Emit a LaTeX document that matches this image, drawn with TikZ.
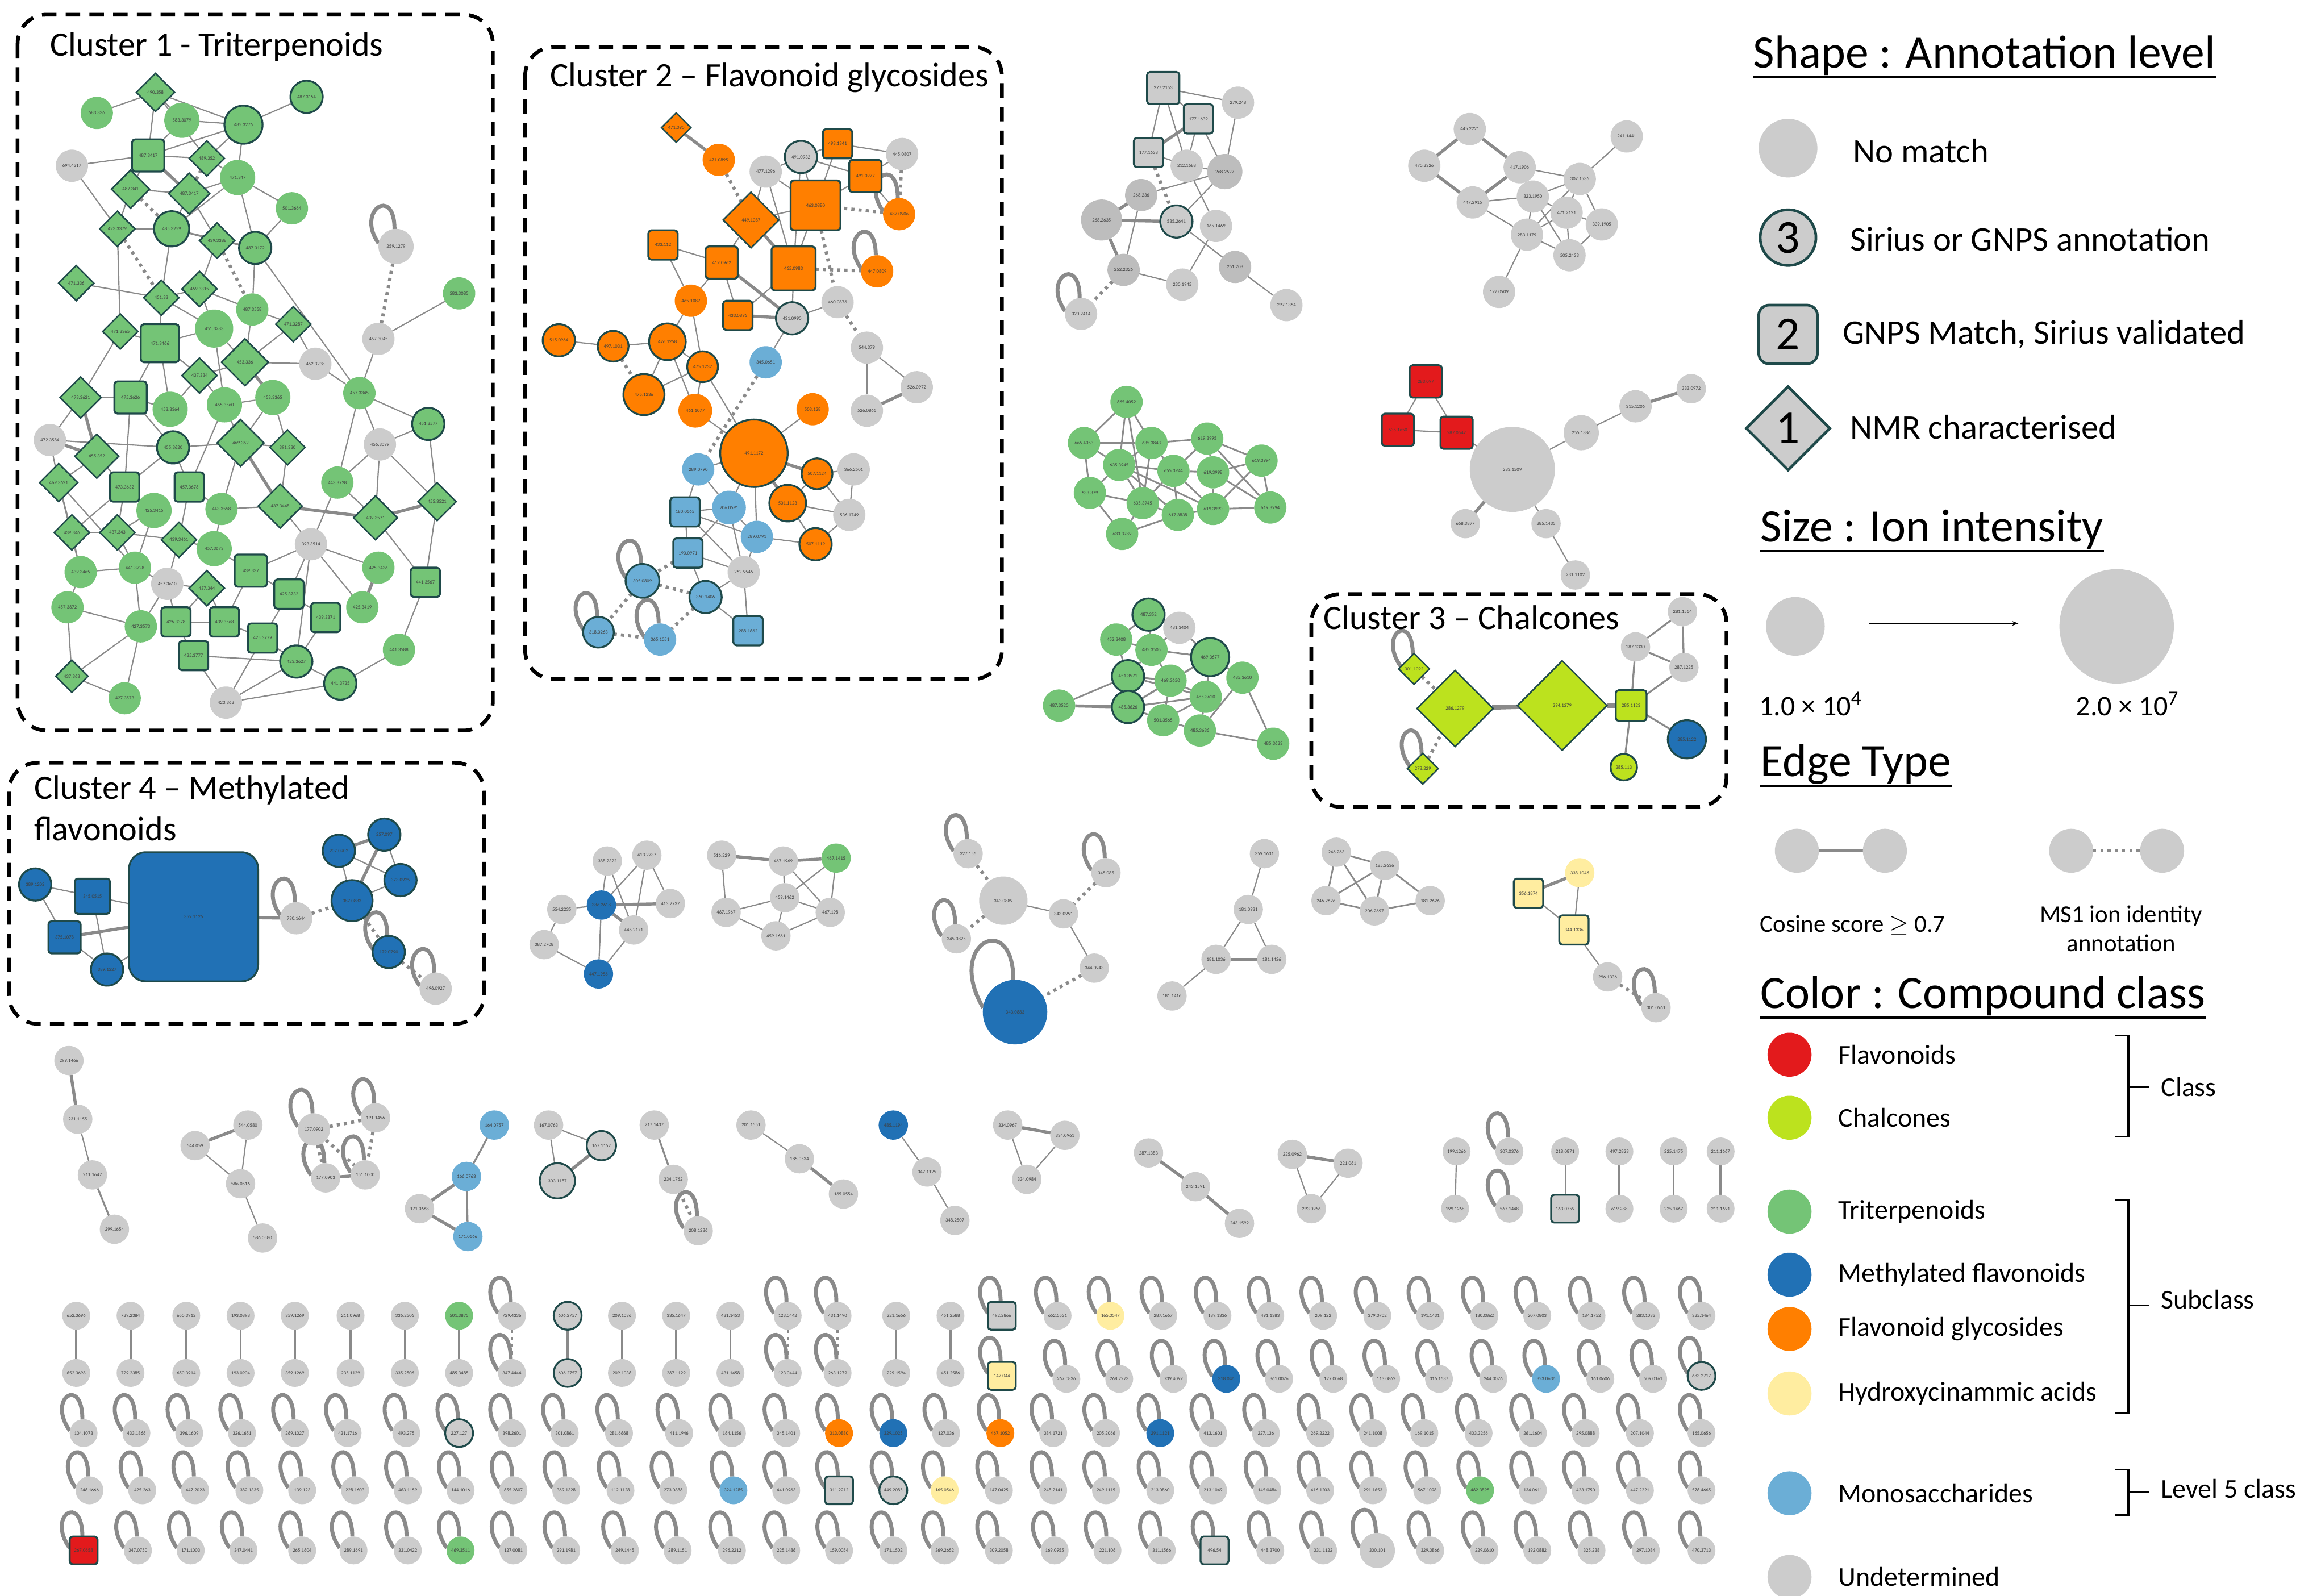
\documentclass[tikz,border=0pt]{standalone}
\usepackage{fontspec}
\setmainfont{Carlito}
\usetikzlibrary{shapes.geometric,backgrounds,arrows.meta}

\definecolor{cgrey}{HTML}{CCCCCC}
\definecolor{cgreyd}{HTML}{BDBDBD}
\definecolor{cgreen}{HTML}{74C476}
\definecolor{cblue}{HTML}{2171B5}
\definecolor{corange}{HTML}{FF7F00}
\definecolor{cyellow}{HTML}{FFEDA0}
\definecolor{clblue}{HTML}{6BAED6}
\definecolor{cred}{HTML}{E31A1C}
\definecolor{clime}{HTML}{BCE21E}
\definecolor{cborder}{HTML}{1F4A4A}
\definecolor{cedge}{HTML}{8A8A8A}

\newcommand\lbl{\fontsize{2.4}{2.6}\selectfont}
% one molecule: name, x, y, level style, colour, size, m/z
\newcommand\mol[7]{\node[#4=#5,sz=#6] (#1) at (#2,-#3) {#7};}
\newcommand\loopon[1]{\draw[selfloop] (#1.170) .. controls +(-16,22) and +(0,30) .. (#1.95);}

\tikzset{
  mol/.style={inner sep=0pt, outer sep=0pt, font=\lbl, text=black!75},
  nm/.style={mol, circle, fill=#1}, nm/.default=cgrey,
  lvlthree/.style={mol, circle, fill=#1, draw=cborder, line width=0.9pt},
  lvltwo/.style={mol, rectangle, rounded corners=1.5pt, fill=#1, draw=cborder, line width=0.9pt},
  lvlone/.style={mol, diamond, aspect=1, fill=#1, draw=cborder, line width=0.7pt},
  sz/.style={minimum size=#1*0.025cm},
  cos/.style={draw=cedge, line width=0.6pt},
  cosw/.style={draw=cedge, line width=1.5pt},
  ms1/.style={draw=cedge, line width=1.6pt, dash pattern=on 1.5pt off 2pt},
  selfloop/.style={draw=cedge, line width=1.9pt},
  clusterbox/.style={draw=black, line width=1.8pt, dash pattern=on 7pt off 4.5pt, rounded corners=14pt},
  ctitle/.style={font=\fontsize{16.6}{20}\selectfont, anchor=west, inner sep=0pt},
  hdr/.style={font=\fontsize{22.5}{24}\selectfont, anchor=west, inner sep=0pt},
  lgtext/.style={font=\fontsize{16.7}{18}\selectfont, anchor=west, inner sep=0pt},
  lgitem/.style={font=\fontsize{13.2}{15}\selectfont, anchor=west, inner sep=0pt},
  lgsmall/.style={font=\fontsize{11.8}{14}\selectfont, inner sep=0pt, align=center},
}

\begin{document}
\begin{tikzpicture}[x=0.025cm, y=0.025cm]
\useasboundingbox (0,0) rectangle (1568,-1088);

% ---------------- cluster 1
\draw[clusterbox] (12,-10) rectangle (336,-498);
\node[ctitle] (titleone) at (34,-32) {Cluster 1 - Triterpenoids};
\mol{tp1}{106}{63}{lvlone}{cgreen}{26}{490.358}
\mol{tp2}{66}{77}{nm}{cgreen}{22}{583.336}
\mol{tp3}{124}{82}{nm}{cgreen}{24}{583.3079}
\mol{tp4}{166}{85}{lvlthree}{cgreen}{26}{485.3276}
\mol{tp5}{209}{66}{lvlthree}{cgreen}{22}{487.3154}
\mol{tp6}{49}{113}{nm}{cgrey}{22}{694.4317}
\mol{tp7}{101}{106}{lvltwo}{cgreen}{22}{487.3417}
\mol{tp8}{141}{108}{lvlone}{cgreen}{24}{489.352}
\mol{tp9}{162}{121}{nm}{cgreen}{24}{471.347}
\mol{tp10}{89}{129}{lvlone}{cgreen}{26}{487.341}
\mol{tp11}{129}{132}{lvlone}{cgreen}{28}{487.3417}
\mol{tp12}{199}{142}{nm}{cgreen}{22}{501.3664}
\mol{tp13}{80}{156}{lvlone}{cgreen}{24}{423.3379}
\mol{tp14}{117}{156}{lvlthree}{cgreen}{24}{485.3259}
\mol{tp15}{148}{164}{lvlone}{cgreen}{24}{439.3388}
\mol{tp16}{174}{169}{lvlthree}{cgreen}{22}{487.3172}
\mol{tp17}{270}{168}{nm}{cgrey}{24}{259.1279}
\mol{tp18}{52}{193}{lvlone}{cgreen}{24}{471.336}
\mol{tp19}{110}{203}{lvlone}{cgreen}{24}{451.33}
\mol{tp20}{136}{197}{lvlone}{cgreen}{24}{469.3315}
\mol{tp21}{172}{211}{nm}{cgreen}{22}{487.3558}
\mol{tp22}{313}{200}{nm}{cgreen}{22}{583.3085}
\mol{tp23}{82}{226}{lvlone}{cgreen}{24}{471.3365}
\mol{tp24}{109}{234}{lvltwo}{cgreen}{26}{471.3466}
\mol{tp25}{146}{224}{nm}{cgreen}{26}{451.3283}
\mol{tp26}{200}{221}{lvlone}{cgreen}{24}{471.3287}
\mol{tp27}{258}{231}{nm}{cgrey}{22}{457.3045}
\mol{tp28}{167}{247}{lvlone}{cgreen}{32}{453.336}
\mol{tp29}{215}{248}{nm}{cgrey}{22}{452.3238}
\mol{tp30}{136}{256}{lvlone}{cgreen}{24}{437.334}
\mol{tp31}{55}{271}{lvlone}{cgreen}{28}{473.3621}
\mol{tp32}{89}{271}{lvltwo}{cgreen}{22}{475.3626}
\mol{tp33}{116}{279}{nm}{cgreen}{24}{453.3364}
\mol{tp34}{153}{276}{nm}{cgreen}{24}{455.3560}
\mol{tp35}{186}{271}{nm}{cgreen}{24}{453.3365}
\mol{tp36}{245}{268}{nm}{cgreen}{22}{457.3345}
\mol{tp37}{292}{289}{lvlthree}{cgreen}{22}{451.3577}
\mol{tp38}{34}{300}{nm}{cgrey}{22}{472.3584}
\mol{tp39}{66}{311}{lvlone}{cgreen}{30}{455.352}
\mol{tp40}{118}{305}{lvlthree}{cgreen}{22}{455.3620}
\mol{tp41}{164}{302}{lvlone}{cgreen}{32}{469.352}
\mol{tp42}{196}{305}{lvlone}{cgreen}{24}{391.330}
\mol{tp43}{259}{303}{nm}{cgrey}{22}{456.3099}
\mol{tp44}{40}{329}{lvlone}{cgreen}{26}{469.3621}
\mol{tp45}{85}{332}{lvltwo}{cgreen}{20}{473.3632}
\mol{tp46}{129}{332}{lvltwo}{cgreen}{20}{457.3676}
\mol{tp47}{230}{329}{nm}{cgreen}{22}{443.3728}
\mol{tp48}{105}{348}{nm}{cgreen}{24}{425.3415}
\mol{tp49}{151}{347}{nm}{cgreen}{22}{443.3558}
\mol{tp50}{191}{345}{lvlone}{cgreen}{30}{437.3448}
\mol{tp51}{256}{353}{lvlone}{cgreen}{30}{439.3571}
\mol{tp52}{298}{342}{lvlone}{cgreen}{26}{455.3521}
\mol{tp53}{49}{363}{lvlone}{cgreen}{24}{439.346}
\mol{tp54}{80}{363}{lvlone}{cgreen}{24}{437.343}
\mol{tp55}{122}{368}{lvlone}{cgreen}{24}{439.3461}
\mol{tp56}{146}{374}{nm}{cgreen}{24}{457.3673}
\mol{tp57}{212}{371}{nm}{cgrey}{22}{393.3514}
\mol{tp58}{55}{390}{nm}{cgreen}{22}{439.3465}
\mol{tp59}{92}{387}{nm}{cgreen}{22}{441.3728}
\mol{tp60}{114}{398}{nm}{cgrey}{22}{457.3610}
\mol{tp61}{141}{401}{lvlone}{cgreen}{24}{437.344}
\mol{tp62}{171}{389}{lvltwo}{cgreen}{22}{439.337}
\mol{tp63}{197}{405}{lvltwo}{cgreen}{20}{425.3732}
\mol{tp64}{258}{387}{nm}{cgreen}{22}{425.3436}
\mol{tp65}{247}{414}{nm}{cgreen}{22}{425.3419}
\mol{tp66}{290}{397}{lvltwo}{cgreen}{20}{441.3567}
\mol{tp67}{46}{414}{nm}{cgreen}{22}{457.3672}
\mol{tp68}{96}{427}{nm}{cgreen}{22}{427.3573}
\mol{tp69}{120}{424}{lvltwo}{cgreen}{20}{426.3378}
\mol{tp70}{153}{424}{lvltwo}{cgreen}{20}{439.3568}
\mol{tp71}{222}{421}{lvltwo}{cgreen}{20}{439.3371}
\mol{tp72}{179}{435}{lvltwo}{cgreen}{20}{425.3779}
\mol{tp73}{132}{447}{lvltwo}{cgreen}{20}{425.3777}
\mol{tp74}{202}{451}{lvlthree}{cgreen}{22}{423.3627}
\mol{tp75}{272}{443}{nm}{cgreen}{22}{441.3588}
\mol{tp76}{49}{461}{lvlone}{cgreen}{22}{437.363}
\mol{tp77}{85}{476}{nm}{cgreen}{22}{427.3573}
\mol{tp78}{154}{479}{nm}{cgrey}{22}{423.362}
\mol{tp79}{232}{466}{lvlthree}{cgreen}{22}{441.3725}

% ---------------- cluster 2
\draw[clusterbox] (358,-32) rectangle (683,-463);
\node[ctitle] (titletwo) at (375,-53) {Cluster 2 – Flavonoid glycosides};
\mol{fg1}{461}{87}{lvlone}{corange}{20}{471.090}
\mol{fg2}{490}{109}{nm}{corange}{22}{471.0895}
\mol{fg3}{522}{117}{nm}{cgrey}{22}{477.1296}
\mol{fg4}{546}{107}{lvlthree}{cgrey}{22}{491.0932}
\mol{fg5}{571}{98}{lvltwo}{corange}{20}{493.1341}
\mol{fg6}{615}{105}{nm}{cgrey}{22}{445.0807}
\mol{fg7}{590}{120}{lvltwo}{corange}{22}{491.0977}
\mol{fg8}{613}{146}{nm}{corange}{22}{487.0906}
\mol{fg9}{512}{150}{lvlone}{corange}{38}{449.1087}
\mol{fg10}{556}{140}{lvltwo}{corange}{34}{463.0880}
\mol{fg11}{452}{167}{lvltwo}{corange}{20}{433.112}
\mol{fg12}{492}{179}{lvltwo}{corange}{22}{419.0962}
\mol{fg13}{541}{183}{lvltwo}{corange}{30}{465.0983}
\mol{fg14}{598}{185}{nm}{corange}{22}{447.0809}
\mol{fg15}{471}{205}{nm}{corange}{22}{465.1087}
\mol{fg16}{571}{206}{nm}{cgrey}{22}{460.0876}
\mol{fg17}{503}{215}{lvltwo}{corange}{20}{433.0896}
\mol{fg18}{540}{217}{lvlthree}{cgrey}{22}{431.0990}
\mol{fg19}{381}{232}{lvlthree}{corange}{22}{515.0964}
\mol{fg20}{418}{236}{lvlthree}{corange}{21}{497.1031}
\mol{fg21}{455}{233}{lvlthree}{corange}{25}{476.1258}
\mol{fg22}{479}{250}{lvlthree}{corange}{21}{475.1237}
\mol{fg23}{522}{247}{nm}{clblue}{22}{345.0651}
\mol{fg24}{591}{237}{nm}{cgrey}{22}{544.379}
\mol{fg25}{439}{269}{lvlthree}{corange}{28}{475.1236}
\mol{fg26}{474}{280}{nm}{corange}{23}{461.1077}
\mol{fg27}{554}{279}{nm}{corange}{22}{503.128}
\mol{fg28}{625}{264}{nm}{cgrey}{22}{526.0972}
\mol{fg29}{591}{280}{nm}{cgrey}{22}{526.0866}
\mol{fg30}{514}{309}{lvlthree}{corange}{46}{491.1172}
\mol{fg31}{476}{320}{nm}{clblue}{22}{289.0790}
\mol{fg32}{557}{323}{lvlthree}{corange}{21}{507.1124}
\mol{fg33}{582}{320}{nm}{cgrey}{22}{366.2501}
\mol{fg34}{467}{349}{lvltwo}{clblue}{20}{180.0665}
\mol{fg35}{497}{346}{nm}{clblue}{23}{206.0591}
\mol{fg36}{537}{343}{lvlthree}{corange}{25}{501.1123}
\mol{fg37}{579}{351}{nm}{cgrey}{22}{536.1749}
\mol{fg38}{516}{366}{nm}{clblue}{22}{289.0791}
\mol{fg39}{469}{377}{lvltwo}{clblue}{20}{190.0971}
\mol{fg40}{507}{390}{nm}{cgrey}{22}{262.9545}
\mol{fg41}{556}{371}{lvlthree}{corange}{22}{507.1119}
\mol{fg42}{438}{396}{lvlthree}{clblue}{23}{305.0809}
\mol{fg43}{481}{407}{lvlthree}{clblue}{22}{360.1406}
\mol{fg44}{408}{431}{lvlthree}{clblue}{21}{318.0263}
\mol{fg45}{450}{436}{nm}{clblue}{22}{365.1051}
\mol{fg46}{510}{430}{lvltwo}{clblue}{20}{288.1662}

% ---------------- grey network, top middle
\mol{ga1}{793}{60}{lvltwo}{cgrey}{22}{277.2153}
\mol{ga2}{844}{70}{nm}{cgrey}{22}{279.248}
\mol{ga3}{817}{81}{lvltwo}{cgrey}{20}{177.1639}
\mol{ga4}{783}{104}{lvltwo}{cgrey}{20}{177.1638}
\mol{ga5}{809}{113}{nm}{cgrey}{22}{212.1688}
\mol{ga6}{835}{117}{nm}{cgreyd}{24}{268.2627}
\mol{ga7}{778}{133}{nm}{cgreyd}{22}{268.236}
\mol{ga8}{751}{150}{nm}{cgreyd}{28}{268.2635}
\mol{ga9}{802}{151}{lvlthree}{cgrey}{22}{535.2641}
\mol{ga10}{829}{154}{nm}{cgrey}{22}{165.1469}
\mol{ga11}{766}{184}{nm}{cgreyd}{22}{252.2326}
\mol{ga12}{806}{194}{nm}{cgrey}{22}{230.1945}
\mol{ga13}{842}{182}{nm}{cgreyd}{22}{251.203}
\mol{ga14}{877}{208}{nm}{cgrey}{22}{297.1364}
\mol{ga15}{737}{214}{nm}{cgrey}{22}{320.2414}

\mol{gb1}{1002}{88}{nm}{cgrey}{22}{445.2221}
\mol{gb2}{1109}{93}{nm}{cgrey}{22}{241.1441}
\mol{gb3}{971}{113}{nm}{cgrey}{22}{470.2326}
\mol{gb4}{1036}{114}{nm}{cgrey}{22}{417.1906}
\mol{gb5}{1077}{122}{nm}{cgrey}{22}{307.1536}
\mol{gb6}{1004}{138}{nm}{cgrey}{22}{447.2915}
\mol{gb7}{1045}{134}{nm}{cgrey}{22}{323.1950}
\mol{gb8}{1068}{145}{nm}{cgrey}{22}{471.2121}
\mol{gb9}{1092}{153}{nm}{cgrey}{22}{339.1905}
\mol{gb10}{1041}{160}{nm}{cgrey}{22}{283.1179}
\mol{gb11}{1070}{174}{nm}{cgrey}{22}{505.2433}
\mol{gb12}{1022}{199}{nm}{cgrey}{22}{197.0909}

\mol{gc1}{768}{274}{nm}{cgreen}{22}{665.4052}
\mol{gc2}{739}{302}{nm}{cgreen}{22}{665.4053}
\mol{gc3}{785}{302}{nm}{cgreen}{22}{635.3843}
\mol{gc4}{823}{299}{nm}{cgreen}{22}{619.3995}
\mol{gc5}{860}{314}{nm}{cgreen}{22}{619.3994}
\mol{gc6}{763}{317}{nm}{cgreen}{22}{635.3945}
\mol{gc7}{800}{321}{nm}{cgreen}{22}{655.3944}
\mol{gc8}{827}{322}{nm}{cgreen}{22}{619.3998}
\mol{gc9}{743}{336}{nm}{cgreen}{22}{633.379}
\mol{gc10}{779}{343}{nm}{cgreen}{22}{635.3945}
\mol{gc11}{803}{351}{nm}{cgreen}{22}{617.3838}
\mol{gc12}{827}{347}{nm}{cgreen}{22}{619.3990}
\mol{gc13}{866}{346}{nm}{cgreen}{22}{619.3994}
\mol{gc14}{765}{364}{nm}{cgreen}{22}{633.3789}

\mol{gd1}{972}{260}{lvltwo}{cred}{22}{283.097}
\mol{gd2}{953}{293}{lvltwo}{cred}{22}{535.1650}
\mol{gd3}{993}{295}{lvltwo}{cred}{22}{287.0547}
\mol{gd4}{1031}{320}{nm}{cgrey}{58}{283.1509}
\mol{gd5}{1078}{295}{nm}{cgrey}{24}{255.1386}
\mol{gd6}{1115}{277}{nm}{cgrey}{22}{315.1206}
\mol{gd7}{1153}{265}{nm}{cgrey}{20}{333.0972}
\mol{gd8}{999}{357}{nm}{cgrey}{20}{668.3877}
\mol{gd9}{1054}{357}{nm}{cgrey}{20}{285.1435}
\mol{gd10}{1074}{392}{nm}{cgrey}{20}{231.1102}

\mol{ge1}{783}{419}{lvlthree}{cgreen}{22}{487.352}
\mol{ge2}{804}{428}{nm}{cgrey}{22}{481.3404}
\mol{ge3}{761}{436}{nm}{cgreen}{22}{452.3408}
\mol{ge4}{785}{443}{nm}{cgreen}{22}{485.3505}
\mol{ge5}{825}{448}{lvlthree}{cgreen}{26}{469.3677}
\mol{ge6}{769}{461}{lvlthree}{cgreen}{22}{451.3571}
\mol{ge7}{798}{464}{nm}{cgreen}{22}{469.3650}
\mol{ge8}{847}{462}{nm}{cgreen}{22}{485.3610}
\mol{ge9}{822}{475}{nm}{cgreen}{22}{485.3620}
\mol{ge10}{722}{481}{nm}{cgreen}{22}{487.3520}
\mol{ge11}{769}{482}{lvlthree}{cgreen}{22}{485.3626}
\mol{ge12}{793}{491}{nm}{cgreen}{22}{501.3565}
\mol{ge13}{818}{498}{nm}{cgreen}{22}{485.3636}
\mol{ge14}{868}{507}{nm}{cgreen}{22}{485.3623}

% ---------------- cluster 3
\draw[clusterbox] (894,-405) rectangle (1177,-550);
\node[ctitle] (titlethree) at (902,-421) {Cluster 3 – Chalcones};
\mol{ch1}{964}{456}{lvlone}{clime}{21}{301.1092}
\mol{ch2}{992}{483}{lvlone}{clime}{52}{286.1279}
\mol{ch3}{1065}{481}{lvlone}{clime}{61}{294.1279}
\mol{ch4}{1112}{481}{lvltwo}{clime}{21}{285.1123}
\mol{ch5}{970}{524}{lvlone}{clime}{21}{278.229}
\mol{ch6}{1147}{417}{nm}{cgrey}{20}{281.1564}
\mol{ch7}{1115}{441}{nm}{cgrey}{20}{287.1330}
\mol{ch8}{1148}{455}{nm}{cgrey}{20}{287.1225}
\mol{ch9}{1150}{504}{lvlthree}{cblue}{26}{285.1122}
\mol{ch10}{1107}{523}{lvlthree}{clime}{18}{285.113}

% ---------------- cluster 4
\draw[clusterbox] (6,-520) rectangle (330,-698);
\node[ctitle, align=left] (titlefour) at (23,-551) {Cluster 4 – Methylated\\flavonoids};
\mol{mf1}{24}{603}{lvlthree}{cblue}{22}{389.1202}
\mol{mf2}{63}{611}{lvltwo}{cblue}{24}{345.0515}
\node[lvltwo=cblue, sz=88, rounded corners=8pt] (mf3) at (132,-625) {359.1126};
\mol{mf4}{44}{639}{lvltwo}{cblue}{22}{375.1078}
\mol{mf5}{73}{661}{lvlthree}{cblue}{22}{389.1227}
\mol{mf6}{202}{626}{nm}{cgrey}{22}{730.1644}
\mol{mf7}{231}{580}{lvlthree}{cblue}{22}{207.0902}
\mol{mf8}{262}{569}{lvlthree}{cblue}{22}{257.097}
\mol{mf9}{273}{600}{lvlthree}{cblue}{22}{373.0925}
\mol{mf10}{240}{614}{lvlthree}{cblue}{28}{387.0883}
\mol{mf11}{265}{649}{lvlthree}{cblue}{22}{179.0790}
\mol{mf12}{297}{674}{nm}{cgrey}{22}{496.0927}

% ---------------- middle row
\mol{ka1}{414}{587}{nm}{cgrey}{20}{388.2322}
\mol{ka2}{441}{583}{nm}{cgrey}{20}{413.2737}
\mol{ka3}{410}{617}{nm}{cblue}{20}{386.2618}
\mol{ka4}{383}{620}{nm}{cgrey}{20}{554.2235}
\mol{ka5}{457}{616}{nm}{cgrey}{20}{413.2737}
\mol{ka6}{432}{634}{nm}{cgrey}{20}{445.2171}
\mol{ka7}{371}{644}{nm}{cgrey}{20}{387.2708}
\mol{ka8}{408}{664}{nm}{cblue}{20}{447.1956}

\mol{kb1}{492}{583}{nm}{cgrey}{20}{516.229}
\mol{kb2}{534}{587}{nm}{cgrey}{20}{467.1969}
\mol{kb3}{570}{585}{nm}{cgreen}{20}{467.1415}
\mol{kb4}{535}{612}{nm}{cgrey}{20}{459.1462}
\mol{kb5}{495}{622}{nm}{cgrey}{20}{467.1967}
\mol{kb6}{566}{622}{nm}{cgrey}{20}{467.198}
\mol{kb7}{529}{638}{nm}{cgrey}{20}{459.1661}

\mol{kc1}{660}{582}{nm}{cgrey}{20}{327.156}
\mol{kc2}{684}{614}{nm}{cgrey}{33}{343.0889}
\mol{kc3}{754}{595}{nm}{cgrey}{20}{345.085}
\mol{kc4}{725}{623}{nm}{cgrey}{20}{343.0951}
\mol{kc5}{652}{640}{nm}{cgrey}{20}{345.0825}
\mol{kc6}{746}{660}{nm}{cgrey}{20}{344.0943}
\mol{kc7}{692}{690}{nm}{cblue}{44}{343.0883}

\mol{kd1}{862}{582}{nm}{cgrey}{20}{359.1631}
\mol{kd2}{851}{620}{nm}{cgrey}{20}{181.0931}
\mol{kd3}{829}{654}{nm}{cgrey}{20}{181.1036}
\mol{kd4}{867}{654}{nm}{cgrey}{20}{181.1426}
\mol{kd5}{799}{679}{nm}{cgrey}{20}{181.1416}

\mol{ke1}{911}{581}{nm}{cgrey}{20}{246.263}
\mol{ke2}{944}{590}{nm}{cgrey}{20}{185.2636}
\mol{ke3}{904}{614}{nm}{cgrey}{20}{246.2626}
\mol{ke4}{937}{621}{nm}{cgrey}{20}{206.2697}
\mol{ke5}{975}{614}{nm}{cgrey}{20}{181.2626}

\mol{kf1}{1077}{595}{nm}{cyellow}{20}{338.1046}
\mol{kf2}{1042}{609}{lvltwo}{cyellow}{20}{356.1874}
\mol{kf3}{1073}{634}{lvltwo}{cyellow}{20}{344.1336}
\mol{kf4}{1096}{666}{nm}{cgrey}{20}{296.1336}
\mol{kf5}{1129}{687}{nm}{cgrey}{20}{301.0961}

% ---------------- small networks
\mol{ra1}{47}{723}{nm}{cgrey}{20}{299.1466}
\mol{ra2}{53}{763}{nm}{cgrey}{20}{231.1155}
\mol{ra3}{63}{801}{nm}{cgrey}{20}{211.1647}
\mol{ra4}{78}{838}{nm}{cgrey}{20}{299.1654}
\mol{rb1}{169}{767}{nm}{cgrey}{20}{544.0580}
\mol{rb2}{133}{781}{nm}{cgrey}{20}{544.059}
\mol{rb3}{164}{807}{nm}{cgrey}{20}{586.0516}
\mol{rb4}{179}{844}{nm}{cgrey}{20}{586.0580}
\mol{rc1}{214}{770}{nm}{cgrey}{22}{177.0902}
\mol{rc2}{256}{762}{nm}{cgrey}{20}{191.1456}
\mol{rc3}{222}{803}{nm}{cgrey}{20}{177.0903}
\mol{rc4}{249}{801}{nm}{cgrey}{20}{151.1000}
\mol{rd1}{337}{767}{nm}{clblue}{20}{164.0757}
\mol{rd2}{318}{802}{nm}{clblue}{20}{166.0763}
\mol{rd3}{286}{824}{nm}{cgrey}{20}{171.0668}
\mol{rd4}{319}{843}{nm}{clblue}{20}{171.0666}
\mol{re1}{374}{767}{nm}{cgrey}{20}{167.0763}
\mol{re2}{410}{781}{lvlthree}{cgrey}{20}{167.1152}
\mol{re3}{380}{805}{lvlthree}{cgrey}{24}{303.1187}
\mol{rf1}{446}{767}{nm}{cgrey}{20}{217.1437}
\mol{rf2}{459}{804}{nm}{cgrey}{20}{234.1762}
\mol{rf3}{476}{839}{nm}{cgrey}{20}{208.1286}
\mol{rg1}{512}{767}{nm}{cgrey}{20}{201.1551}
\mol{rg2}{545}{790}{nm}{cgrey}{20}{185.0534}
\mol{rg3}{575}{814}{nm}{cgrey}{20}{165.0554}
\mol{rh1}{609}{767}{nm}{cblue}{20}{485.1194}
\mol{rh2}{632}{799}{nm}{cgrey}{20}{347.1125}
\mol{rh3}{651}{832}{nm}{cgrey}{20}{348.2507}
\mol{ri1}{687}{767}{nm}{cgrey}{20}{334.0967}
\mol{ri2}{726}{774}{nm}{cgrey}{20}{334.0961}
\mol{ri3}{700}{804}{nm}{cgrey}{20}{334.0984}
\mol{rj1}{783}{786}{nm}{cgrey}{20}{287.1383}
\mol{rj2}{815}{809}{nm}{cgrey}{20}{243.1591}
\mol{rj3}{845}{834}{nm}{cgrey}{20}{243.1592}
\mol{rk1}{881}{787}{nm}{cgrey}{20}{225.0962}
\mol{rk2}{919}{793}{nm}{cgrey}{20}{221.061}
\mol{rk3}{894}{824}{nm}{cgrey}{20}{293.0966}
\mol{rl1}{993}{785}{nm}{cgrey}{19}{199.1266}
\mol{rl2}{992}{824}{nm}{cgrey}{19}{199.1268}
\mol{rl3}{1029}{785}{nm}{cgrey}{19}{307.0376}
\mol{rl4}{1029}{824}{nm}{cgrey}{19}{567.1448}
\mol{rl5}{1067}{785}{nm}{cgrey}{19}{218.0871}
\mol{rl6}{1067}{824}{lvltwo}{cgrey}{19}{163.0759}
\mol{rl7}{1104}{785}{nm}{cgrey}{19}{497.2823}
\mol{rl8}{1104}{824}{nm}{cgrey}{19}{619.288}
\mol{rl9}{1141}{785}{nm}{cgrey}{19}{225.1475}
\mol{rl10}{1141}{824}{nm}{cgrey}{19}{225.1467}
\mol{rl11}{1173}{785}{nm}{cgrey}{19}{211.1667}
\mol{rl12}{1173}{824}{nm}{cgrey}{19}{211.1691}

% ---------------- singletons and pairs
\foreach \i/\x/\c/\l in {1/52/cgrey/652.3696, 2/89/cgrey/729.2384, 3/127/cgrey/650.3912, 4/164/cgrey/193.0898, 5/201/cgrey/359.1269, 6/239/cgrey/211.0968, 7/276/cgrey/336.2506, 8/313/cgreen/501.3875, 9/349/cgrey/729.4336, 11/424/cgrey/209.1036, 12/461/cgrey/335.1647, 13/498/cgrey/431.1453, 14/537/cgrey/123.0442, 15/571/cgrey/431.1490, 16/611/cgrey/221.1656, 17/648/cgrey/451.2588, 19/721/cgrey/652.5531, 20/757/cyellow/165.0547, 21/793/cgrey/287.1667, 22/830/cgrey/189.1336, 23/866/cgrey/491.1383, 24/902/cgrey/209.122, 25/939/cgrey/379.0702, 26/975/cgrey/191.1431, 27/1012/cgrey/130.0862, 28/1048/cgrey/207.0803, 29/1085/cgrey/184.1752, 30/1122/cgrey/283.1033, 31/1160/cgrey/325.1464}
  \node[nm=\c, sz=19] (qa\i) at (\x,-897) {\l};
\node[lvlthree=cgrey, sz=19] (qa10) at (387,-897) {606.2757};
\node[lvltwo=cgrey, sz=19] (qa18) at (683,-897) {492.2866};

\foreach \i/\x/\c/\l in {1/52/cgrey/652.3698, 2/89/cgrey/729.2385, 3/127/cgrey/650.3914, 4/164/cgrey/193.0904, 5/201/cgrey/359.1269, 6/239/cgrey/235.1129, 7/276/cgrey/335.2506, 8/313/cgrey/485.3485, 9/349/cgrey/347.4444, 11/424/cgrey/209.1036, 12/461/cgrey/267.1129, 13/498/cgrey/431.1458, 14/537/cgrey/123.0444, 15/571/cgrey/263.1279, 16/611/cgrey/229.1594, 17/648/cgrey/451.2586}
  \node[nm=\c, sz=19] (qb\i) at (\x,-936) {\l};
\foreach \i/\x/\c/\l in {19/727/cgrey/267.0836, 20/763/cgrey/268.2273, 21/800/cgrey/739.4099, 22/836/cblue/318.046, 23/872/cgrey/361.0076, 24/909/cgrey/127.0068, 25/945/cgrey/113.0862, 26/981/cgrey/316.1637, 27/1018/cgrey/244.0076, 28/1054/clblue/353.0636, 29/1091/cgrey/161.0606, 30/1127/cgrey/509.0161}
  \node[nm=\c, sz=19] (qb\i) at (\x,-940) {\l};
\node[lvlthree=cgrey, sz=19] (qb10) at (387,-936) {606.2757};
\node[lvltwo=cyellow, sz=19] (qb18) at (683,-938) {147.044};
\node[lvlthree=cgrey, sz=19] (qb31) at (1160,-938) {683.2717};

\foreach \i/\x/\c/\l in {1/57/cgrey/104.1073, 2/93/cgrey/433.1866, 3/129/cgrey/396.1609, 4/165/cgrey/326.1651, 5/201/cgrey/269.1027, 6/237/cgrey/421.1716, 7/277/cgrey/493.275, 9/349/cgrey/398.2601, 10/385/cgrey/301.0861, 11/422/cgrey/281.6668, 12/463/cgrey/411.1946, 13/499/cgrey/164.1156, 14/536/cgrey/345.1401, 15/572/corange/313.0880, 16/609/cblue/329.1025, 17/645/cgrey/127.036, 18/682/corange/467.1052, 19/718/cgrey/384.1721, 20/754/cgrey/205.2066, 21/791/cblue/291.1121, 22/827/cgrey/413.1601, 23/863/cgrey/227.136, 24/900/cgrey/269.2222, 25/936/cgrey/241.1008, 26/971/cgrey/169.1015, 27/1008/cgrey/403.3256, 28/1045/cgrey/261.1604, 29/1081/cgrey/295.0888, 30/1118/cgrey/207.1044, 31/1160/cgrey/165.0656}
  \node[nm=\c, sz=19] (qc\i) at (\x,-977) {\l};
\node[lvlthree=cgrey, sz=19] (qc8) at (313,-977) {227.127};

\foreach \i/\x/\c/\l in {1/61/cgrey/246.1666, 2/97/cgrey/425.263, 3/133/cgrey/447.2023, 4/170/cgrey/382.1335, 5/206/cgrey/139.123, 6/242/cgrey/228.1603, 7/278/cgrey/463.1159, 8/314/cgrey/144.1016, 9/350/cgrey/655.2607, 10/386/cgrey/369.1328, 11/423/cgrey/112.1128, 12/459/cgrey/273.0886, 13/500/clblue/324.1285, 14/536/cgrey/441.0963, 17/644/cyellow/165.0546, 18/681/cgrey/147.0425, 19/718/cgrey/248.2141, 20/754/cgrey/249.1115, 21/791/cgrey/213.0860, 22/827/cgrey/213.1049, 23/864/cgrey/145.0484, 24/900/cgrey/416.1203, 25/936/cgrey/291.1653, 26/973/cgrey/567.1098, 27/1009/cgreen/462.3895, 28/1045/cgrey/134.0611, 29/1081/cgrey/423.1750, 30/1118/cgrey/447.2221, 31/1160/cgrey/576.4665}
  \node[nm=\c, sz=19] (qd\i) at (\x,-1016) {\l};
\node[lvltwo=cgrey, sz=19] (qd15) at (572,-1016) {311.2212};
\node[lvlthree=cgrey, sz=19] (qd16) at (609,-1016) {449.2085};

\foreach \i/\x/\c/\l in {2/94/cgrey/347.0750, 3/130/cgrey/171.1003, 4/166/cgrey/347.0441, 5/206/cgrey/265.1604, 6/241/cgrey/289.1691, 7/278/cgrey/331.0422, 8/314/cgreen/469.3511, 9/350/cgrey/127.0081, 10/386/cgrey/291.1981, 11/426/cgrey/249.1445, 12/462/cgrey/289.1151, 13/499/cgrey/296.2212, 14/536/cgrey/225.1486, 15/572/cgrey/159.0054, 16/609/cgrey/171.1502, 17/644/cgrey/369.2652, 18/681/cgrey/309.2058, 19/719/cgrey/169.0955, 20/755/cgrey/221.106, 21/792/cgrey/311.1566, 23/866/cgrey/448.3700, 24/902/cgrey/331.1122, 26/975/cgrey/329.0866, 27/1012/cgrey/229.0610, 28/1048/cgrey/192.0882, 29/1085/cgrey/325.238, 30/1122/cgrey/297.1084, 31/1160/cgrey/470.3713}
  \node[nm=\c, sz=19] (qe\i) at (\x,-1057) {\l};
\node[lvltwo=cred, sz=19] (qe1) at (57,-1057) {267.0658};
\node[lvltwo=cgrey, sz=19] (qe22) at (828,-1057) {496.54};
\node[nm=cgrey, sz=24] (qe25) at (939,-1057) {300.101};

% ---------------- legend
\node[hdr] (hdshape) at (1195,-38) {Shape : Annotation level};
\draw[line width=1.2pt] ([yshift=-4.5pt]hdshape.base west) -- ([yshift=-4.5pt]hdshape.base east);
\node[nm=cgrey, sz=40] (lgnomatch) at (1219,-101) {};
\node[lgtext] (lgtnomatch) at (1263,-103) {No match};
\node[lvlthree=cgrey, sz=38, line width=1.3pt, font=\fontsize{23}{23}\selectfont, text=black] (lgsirius) at (1219,-162) {3};
\node[lgtext] (lgtsirius) at (1261,-163) {Sirius or GNPS annotation};
\node[lvltwo=cgrey, sz=40, line width=1.3pt, rounded corners=5pt, font=\fontsize{23}{23}\selectfont, text=black] (lggnps) at (1219,-228) {2};
\node[lgtext] (lgtgnps) at (1256,-228) {GNPS Match, Sirius validated};
\node[lvlone=cgrey, sz=57, line width=1.3pt, font=\fontsize{23}{23}\selectfont, text=black] (lgnmr) at (1219,-292) {1};
\node[lgtext] (lgtnmr) at (1261,-291) {NMR characterised};

\node[hdr] (hdsize) at (1200,-361) {Size : Ion intensity};
\draw[line width=1.2pt] ([yshift=-4.5pt]hdsize.base west) -- ([yshift=-4.5pt]hdsize.base east);
\node[nm=cgrey, sz=40] (lgsmall) at (1224,-427) {};
\node[nm=cgrey, sz=78] (lgbig) at (1443,-427) {};
\coordinate (arrstart) at (1274,-425);
\coordinate (arrend) at (1376,-425);
\draw[line width=0.5pt, -{Stealth[length=3pt]}] (arrstart) -- (arrend);
\node[lgitem, font=\fontsize{13.8}{15}\selectfont] (lgtsmall) at (1199,-480) {1.0 × 10\textsuperscript{4}};
\node[lgitem, font=\fontsize{13.8}{15}\selectfont] (lgtbig) at (1415,-480) {2.0 × 10\textsuperscript{7}};

\node[hdr] (hdedge) at (1200,-521) {Edge Type};
\draw[line width=1.2pt] ([yshift=-4.5pt]hdedge.base west) -- ([yshift=-4.5pt]hdedge.base east);
\node[nm=cgrey, sz=30] (lgcosa) at (1225,-580) {};
\node[nm=cgrey, sz=30] (lgcosb) at (1285,-580) {};
\node[nm=cgrey, sz=30] (lgmsa) at (1412,-580) {};
\node[nm=cgrey, sz=30] (lgmsb) at (1474,-580) {};
\node[lgsmall] (lgtcos) at (1263,-631) {Cosine score $\geq$ 0.7};
\node[lgsmall] (lgtms) at (1446,-633) {MS1 ion identity\\annotation};

\node[hdr] (hdcolor) at (1200,-679) {Color : Compound class};
\draw[line width=1.2pt] ([yshift=-4.5pt]hdcolor.base west) -- ([yshift=-4.5pt]hdcolor.base east);
\foreach \n/\y/\c/\t in {a/719/cred/Flavonoids, b/762/clime/Chalcones, c/826/cgreen/Triterpenoids, d/869/cblue/Methylated flavonoids, e/906/corange/Flavonoid glycosides, f/950/cyellow/Hydroxycinammic acids, g/1018/clblue/Monosaccharides, h/1075/cgrey/Undetermined}
{
  \node[nm=\c, sz=30] (lgc\n) at (1220,-\y) {};
  \node[lgitem] (lgt\n) at (1253,-\y) {\t};
}
\draw[line width=0.9pt] (1442,-706) -- (1451,-706) -- (1451,-775) -- (1442,-775) (1451,-741) -- (1465,-741);
\draw[line width=0.9pt] (1442,-818) -- (1451,-818) -- (1451,-963) -- (1442,-963) (1451,-890) -- (1465,-890);
\draw[line width=0.9pt] (1442,-1002) -- (1451,-1002) -- (1451,-1033) -- (1442,-1033) (1451,-1017) -- (1465,-1017);
\node[lgitem] (lgclass) at (1473,-741) {Class};
\node[lgitem] (lgsubclass) at (1473,-886) {Subclass};
\node[lgitem] (lglevel) at (1473,-1015) {Level 5 class};

% ---------------- edges
\begin{pgfonlayer}{background}
\foreach \a/\b in {1/2, 1/3, 1/4, 1/7, 1/8, 3/4, 4/5, 4/9, 4/7, 4/8, 3/7, 6/7, 7/10, 7/8, 8/9, 9/11, 9/12, 9/14, 9/16, 10/11, 10/13, 11/14, 11/15, 13/14, 14/15, 14/16, 14/19, 15/16, 15/20, 12/16, 16/21, 16/36, 6/13, 18/19, 19/20, 19/24, 19/25, 20/21, 20/25, 21/26, 21/28, 25/28, 24/25, 23/24, 24/32, 24/30, 23/31, 13/23, 26/28, 26/29, 28/29, 28/30, 29/36, 30/34, 30/33, 31/32, 31/38, 32/40, 32/45, 24/33, 34/35, 34/41, 35/41, 35/42, 36/37, 36/43, 27/36, 22/27, 36/47, 37/43, 37/52, 38/44, 38/40, 39/45, 39/44, 40/41, 40/46, 40/45, 41/42, 42/50, 43/47, 43/51, 43/52, 47/57, 47/51, 50/57, 51/66, 52/66, 44/53, 45/53, 45/54, 45/48, 46/49, 46/55, 48/54, 48/59, 49/56, 49/50, 53/58, 54/59, 55/56, 55/60, 56/62, 57/62, 57/63, 57/64, 57/74, 58/67, 59/68, 60/61, 60/68, 60/69, 61/70, 62/63, 62/70, 63/71, 63/72, 66/75, 67/76, 67/68, 68/77, 69/70, 69/73, 70/72, 71/74, 72/74, 73/78, 74/79, 75/79, 76/77, 78/79, 74/78, 73/74, 58/59, 44/58, 32/33, 25/34, 41/49, 34/46, 53/54, 54/55, 59/60, 61/69, 72/78, 68/76, 44/59, 57/65}
  \draw[cos] (tp\a) -- (tp\b);
\foreach \a/\b in {7/11, 28/35, 41/50, 51/52, 64/65, 38/39, 50/51, 31/39}
  \draw[cosw] (tp\a) -- (tp\b);
\foreach \a/\b in {13/19, 17/27, 10/14, 15/21, 8/11}
  \draw[ms1] (tp\a) -- (tp\b);
\loopon{tp17}

\foreach \a/\b in {3/4, 3/9, 3/10, 4/5, 4/10, 4/7, 5/7, 6/7, 7/10, 7/8, 9/10, 9/12, 9/13, 10/13, 3/13, 4/13, 11/12, 11/15, 12/15, 12/17, 13/18, 16/18, 15/21, 15/22, 19/20, 20/21, 21/22, 21/25, 21/26, 22/25, 22/26, 22/30, 18/23, 24/28, 24/29, 26/30, 27/30, 30/31, 30/35, 30/38, 31/34, 31/35, 32/33, 32/36, 32/37, 33/37, 36/41, 36/37, 37/41, 34/35, 34/39, 34/38, 35/39, 35/38, 35/40, 38/40, 38/41, 39/40, 39/43, 40/43, 40/46, 43/46, 34/40, 30/41, 5/10, 13/17, 5/6}
  \draw[cos] (fg\a) -- (fg\b);
\foreach \a/\b in {1/2, 12/18, 17/18, 30/32, 30/36, 28/29, 9/13}
  \draw[cosw] (fg\a) -- (fg\b);
\foreach \a/\b in {2/9, 6/8, 8/10, 13/14, 10/16, 16/24, 23/31, 42/43, 39/42, 42/44, 44/45, 43/45, 20/25}
  \draw[ms1] (fg\a) -- (fg\b);
\loopon{fg8} \loopon{fg14} \loopon{fg42} \loopon{fg44} \loopon{fg45}

\foreach \a/\b in {1/2, 1/3, 1/4, 1/5, 3/5, 3/6, 2/6, 4/5, 5/6, 5/10, 6/7, 6/9, 7/11, 9/13, 10/12, 11/12, 13/14}
  \draw[cos] (ga\a) -- (ga\b);
\foreach \a/\b in {3/4, 7/8, 8/9, 8/11}
  \draw[cosw] (ga\a) -- (ga\b);
\foreach \a/\b in {4/9, 11/15}
  \draw[ms1] (ga\a) -- (ga\b);
\loopon{ga15}

\foreach \a/\b in {4/5, 4/7, 2/5, 6/7, 6/10, 5/7, 7/8, 7/10, 5/8, 5/9, 5/10, 8/9, 8/10, 8/11, 9/11, 10/11, 10/12, 7/11}
  \draw[cos] (gb\a) -- (gb\b);
\foreach \a/\b in {1/3, 1/4, 3/6, 4/6}
  \draw[cosw] (gb\a) -- (gb\b);

\foreach \a/\b in {1/2, 1/3, 1/6, 2/3, 2/6, 2/9, 3/4, 3/6, 3/7, 4/7, 4/8, 4/5, 5/8, 5/13, 4/13, 6/7, 6/9, 6/10, 6/11, 7/8, 7/10, 7/11, 7/12, 8/12, 8/13, 9/10, 9/14, 10/11, 10/14, 11/12, 11/14, 12/13, 3/10, 1/10, 6/12, 5/12}
  \draw[cos, line width=0.8pt] (gc\a) -- (gc\b);

\foreach \a/\b in {1/2, 1/3, 2/3, 3/4, 4/5, 5/6, 4/9, 9/10}
  \draw[cos] (gd\a) -- (gd\b);
\foreach \a/\b in {6/7, 4/8}
  \draw[cosw] (gd\a) -- (gd\b);

\foreach \a/\b in {1/2, 1/3, 1/4, 2/4, 2/5, 3/4, 3/6, 4/5, 4/6, 4/7, 5/7, 5/8, 5/9, 6/7, 6/11, 6/10, 7/9, 7/11, 7/12, 9/11, 9/12, 9/13, 8/13, 8/14, 11/12, 12/13, 13/14, 6/9, 5/11}
  \draw[cos, line width=0.8pt] (ge\a) -- (ge\b);
\draw[cosw] (ge10) -- (ge11);

\foreach \a/\b in {4/7, 4/8, 4/9, 4/10, 6/7, 6/8, 7/8}
  \draw[cos, line width=0.9pt] (ch\a) -- (ch\b);
\foreach \a/\b in {2/3, 3/4}
  \draw[cosw, line width=2.2pt] (ch\a) -- (ch\b);
\foreach \a/\b in {1/2, 5/2}
  \draw[ms1] (ch\a) -- (ch\b);
\loopon{ch1} \loopon{ch5}

\foreach \a/\b in {1/2, 1/4, 2/3, 2/5, 4/5, 5/3, 7/9, 7/10, 8/9, 9/10}
  \draw[cos] (mf\a) -- (mf\b);
\foreach \a/\b in {4/3, 3/6, 7/8, 8/10}
  \draw[cosw] (mf\a) -- (mf\b);
\foreach \a/\b in {6/10, 10/11, 11/12}
  \draw[ms1] (mf\a) -- (mf\b);
\loopon{mf6} \loopon{mf11} \loopon{mf12}

\foreach \a/\b in {1/3, 2/3, 2/5, 3/4, 3/8, 1/6, 6/8, 7/8, 4/7, 2/6}
  \draw[cos] (ka\a) -- (ka\b);
\foreach \a/\b in {3/5, 3/6}
  \draw[cosw] (ka\a) -- (ka\b);
\foreach \a/\b in {1/5, 2/4, 2/6, 3/4, 3/6, 4/5, 4/6, 4/7, 5/7, 6/7}
  \draw[cos] (kb\a) -- (kb\b);
\foreach \a/\b in {1/2, 2/3}
  \draw[cosw] (kb\a) -- (kb\b);
\foreach \a/\b in {2/4, 4/6}
  \draw[cos] (kc\a) -- (kc\b);
\foreach \a/\b in {1/2, 3/4, 2/5, 6/7}
  \draw[ms1] (kc\a) -- (kc\b);
\loopon{kc1} \loopon{kc3} \loopon{kc5}
\draw[selfloop] (kc7.172) .. controls +(-26,44) and +(0,48) .. (kc7.93);
\foreach \a/\b in {1/2, 2/3, 2/4, 3/5}
  \draw[cos] (kd\a) -- (kd\b);
\draw[cosw] (kd3) -- (kd4);
\foreach \a/\b in {1/2, 1/3, 1/4, 2/4, 2/3, 2/5, 3/4, 4/5}
  \draw[cos, line width=0.8pt] (ke\a) -- (ke\b);
\foreach \a/\b in {1/3, 2/3, 3/4}
  \draw[cos] (kf\a) -- (kf\b);
\draw[cosw] (kf1) -- (kf2);
\draw[ms1] (kf4) -- (kf5);
\loopon{kf5}

\draw[cosw] (ra1) -- (ra2); \draw[cos] (ra2) -- (ra3); \draw[cos, line width=0.9pt] (ra3) -- (ra4);
\draw[cosw] (rb1) -- (rb2); \draw[cos] (rb1) -- (rb3); \draw[cos] (rb2) -- (rb3); \draw[cos] (rb3) -- (rb4);
\foreach \a/\b in {1/2, 1/3, 2/4, 1/4}
  \draw[ms1] (rc\a) -- (rc\b);
\draw[cosw] (rc3) -- (rc4);
\loopon{rc1} \loopon{rc2} \loopon{rc3} \loopon{rc4}
\draw[cos, line width=0.9pt] (rd1) -- (rd2); \draw[cosw] (rd2) -- (rd3); \draw[cos, line width=0.9pt] (rd2) -- (rd4); \draw[cosw] (rd3) -- (rd4);
\draw[cos] (re1) -- (re2); \draw[cos] (re1) -- (re3); \draw[cosw] (re2) -- (re3);
\draw[cos, line width=0.9pt] (rf1) -- (rf2); \draw[ms1] (rf2) -- (rf3); \loopon{rf3}
\draw[cos] (rg1) -- (rg2); \draw[cosw] (rg2) -- (rg3);
\draw[cos] (rh1) -- (rh2); \draw[cos] (rh2) -- (rh3);
\draw[cosw] (ri1) -- (ri2); \draw[cos] (ri1) -- (ri3); \draw[cos] (ri2) -- (ri3);
\draw[cosw] (rj1) -- (rj2); \draw[cosw] (rj2) -- (rj3);
\draw[cosw] (rk1) -- (rk2); \draw[cos] (rk1) -- (rk3); \draw[cos] (rk2) -- (rk3);
\draw[cos] (rl1) -- (rl2); \loopon{rl3} \loopon{rl4}
\draw[cos] (rl5) -- (rl6); \draw[cos, line width=1pt] (rl7) -- (rl8);
\draw[cos] (rl9) -- (rl10); \draw[cosw] (rl11) -- (rl12);

\foreach \i in {1,...,8,10,11,12,13,16,17}
  \draw[cos, line width=1pt] (qa\i) -- (qb\i);
\foreach \i in {9,14,15}
  \draw[ms1, line width=1pt] (qa\i) -- (qb\i);
\foreach \i in {9,14,15,18,19,...,31} {\loopon{qa\i} \loopon{qb\i}}
\foreach \i in {1,...,31} {\loopon{qc\i} \loopon{qd\i} \loopon{qe\i}}

\draw[cos, line width=1.2pt] (lgcosa) -- (lgcosb);
\draw[ms1] (lgmsa) -- (lgmsb);
\end{pgfonlayer}
\end{tikzpicture}
\end{document}
